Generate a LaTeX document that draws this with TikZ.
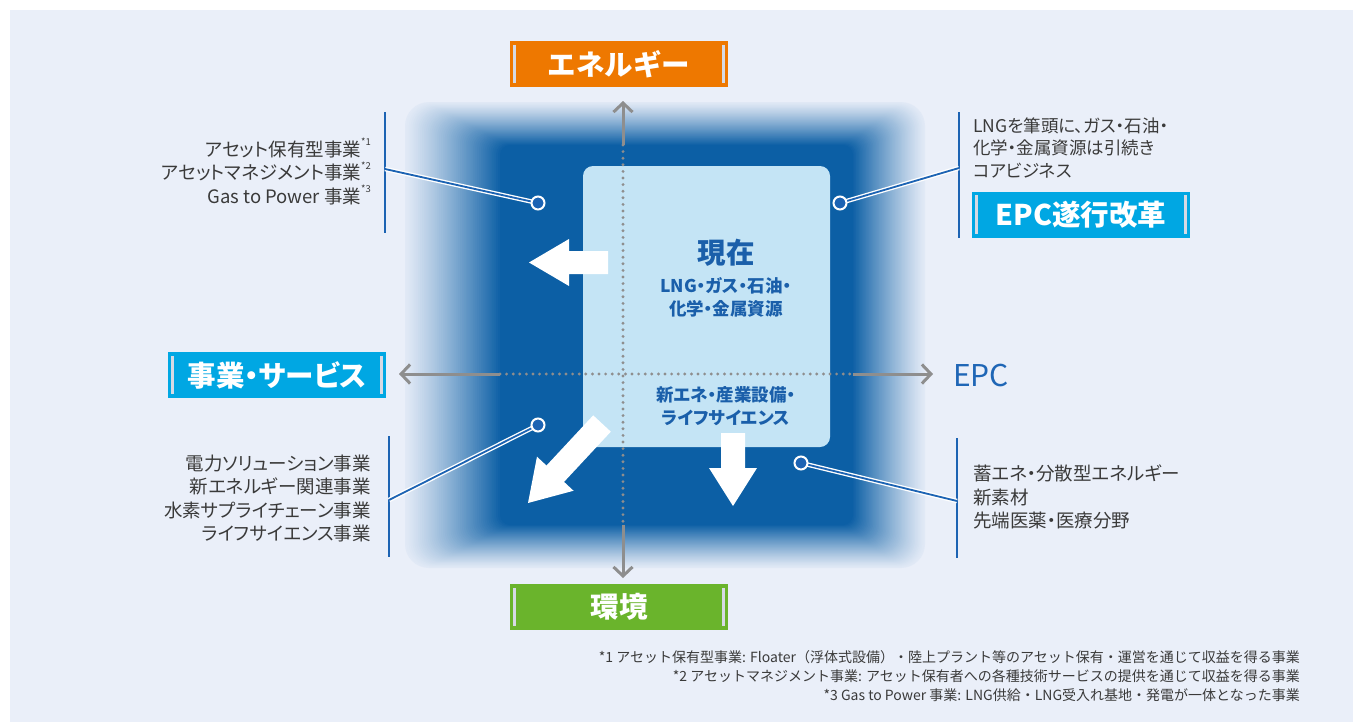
\documentclass[tikz,border=0pt]{standalone}
\usepackage{fontspec}
\setmainfont{Noto Sans CJK JP}
\newfontfamily\jpp{Noto Sans CJK JP}[RawFeature=+palt]
\usetikzlibrary{arrows.meta,calc}
\definecolor{bgc}{HTML}{EAEFF9}
\definecolor{darkb}{HTML}{0C5FA5}
\definecolor{lightb}{HTML}{C4E4F5}
\definecolor{orng}{HTML}{EE7800}
\definecolor{grn}{HTML}{6AB42C}
\definecolor{cyn}{HTML}{00A7E3}
\definecolor{txtg}{HTML}{3A3A3A}
\definecolor{lblue}{HTML}{1C63B3}
\definecolor{ctr}{HTML}{1A5FAA}
\definecolor{epcb}{HTML}{1F66B6}
\definecolor{axg}{HTML}{8E8E8E}
\definecolor{barc}{HTML}{D6DAE4}
\newcommand\sfs[2]{\fontsize{#1}{#2}\selectfont}
\newcommand\supmark[1]{\raisebox{0.55em}{\fontsize{9.5}{9.5}\selectfont #1}}
\newcommand\blkarrow[7]{% x y angle length shaft-half head-half head-length
  \begin{scope}[shift={(#1,#2)},rotate=#3]
    \fill[white] (0,-#5) -- ({#4-#7},-#5) -- ({#4-#7},-#6) -- (#4,0) -- ({#4-#7},#6) -- ({#4-#7},#5) -- (0,#5) -- cycle;
  \end{scope}}
\newcommand\catbars[1]{%
  \draw[barline] ([shift={(5,4)}]#1.north west) -- ([shift={(5,-4)}]#1.south west);
  \draw[barline] ([shift={(-5,4)}]#1.north east) -- ([shift={(-5,-4)}]#1.south east);}
\begin{document}
\begin{tikzpicture}[x=1pt,y=-1pt,
  catbox/.style={rectangle, fill=#1, minimum width=218pt, minimum height=46pt, inner sep=0pt, text=white, font=\bfseries\sfs{28.5}{30}},
  barline/.style={barc, line width=3pt},
  bodytxt/.style={text=txtg, inner sep=0pt, font=\jpp\sfs{18.5}{23.5}},
  foottxt/.style={text=txtg, inner sep=0pt, font=\sfs{14}{19.3}},
  ctrtxt/.style={text=ctr, inner sep=0pt, font=\jpp\bfseries},
  sepline/.style={lblue, line width=1.8pt},
  conw/.style={white, line width=4.5pt},
  conb/.style={lblue, line width=1.8pt},
  dotc/.style={circle, fill=lblue, draw=white, line width=2pt, minimum size=13pt, inner sep=0pt},
  axisline/.style={axg, line width=3pt, -{Straight Barb[length=9pt,width=19pt,line width=3pt]}},
  axisdots/.style={axg, line width=3.2pt, line cap=round, dash pattern=on 0pt off 6.6pt}]
\useasboundingbox (0,0) rectangle (1363,726);
\fill[white] (0,0) rectangle (1363,726);
\fill[bgc] (10,10) rectangle (1353,722);
% soft-edged dark square
\foreach \i in {0,...,50}{
  \pgfmathsetmacro\t{\i/50}
  \pgfmathsetmacro\p{4+96*\t^1.15}
  \pgfmathsetmacro\rr{24-14*\t}
  \fill[darkb!\p!bgc, rounded corners=\rr pt] ({405+95*\t},{102+43*\t}) rectangle ({925-72*\t},{568-43*\t});
}
% light current box
\fill[lightb, rounded corners=10pt] (583,166) rectangle (830,447);
% axes
\coordinate (ytop) at (623,101);
\coordinate (ybot) at (623,578);
\coordinate (xlft) at (399,374);
\coordinate (xrgt) at (933,374);
\coordinate (yt1) at (623,145);
\coordinate (yb1) at (623,525);
\coordinate (xl1) at (500,374);
\coordinate (xr1) at (853,374);
\draw[axisdots] (yt1) -- (yb1);
\draw[axisdots] (xl1) -- (xr1);
\draw[axisline] (yt1) -- (ytop);
\draw[axisline] (yb1) -- (ybot);
\draw[axisline] (xl1) -- (xlft);
\draw[axisline] (xr1) -- (xrgt);
% white block arrows
\blkarrow{608}{262.5}{180}{79}{11.5}{23.5}{40}
\blkarrow{733}{433}{-90}{73}{12}{24}{38}
\blkarrow{602}{423.5}{227.05}{108.6}{12}{25}{40}
% centre texts
\node[ctrtxt, font=\jpp\bfseries\sfs{28.5}{30}] (now) at (726,253) {現在};
\node[ctrtxt, font=\jpp\bfseries\sfs{17.5}{23}, align=center] (nowsub) at (726,297) {LNG・ガス・石油・\\化学・金属資源};
\node[ctrtxt, font=\jpp\bfseries\sfs{17.5}{23}, align=center] (newsub) at (726,406) {新エネ・産業設備・\\ライフサイエンス};
% category boxes
\node[catbox=orng] (ene) at (619,64) {エネルギー};
\catbars{ene}
\node[catbox=grn] (env) at (619,607) {環境};
\catbars{env}
\node[catbox=cyn, font=\jpp\bfseries\sfs{28.5}{30}] (svc) at (277,375) {事業・サービス};
\catbars{svc}
\node[catbox=cyn] (epcr) at (1081,214.5) {EPC遂行改革};
\catbars{epcr}
\node[anchor=west, text=epcb, inner sep=0pt, font=\sfs{30}{30}] (epc) at (953,375) {EPC};
% side texts
\node[bodytxt, anchor=east, align=right] (tl) at (371,171.5) {アセット保有型事業\supmark{*1}\\アセットマネジメント事業\supmark{*2}\\Gas to Power 事業\supmark{*3}};
\node[bodytxt, anchor=east, align=right] (bl) at (371,498.5) {電力ソリューション事業\\新エネルギー関連事業\\水素サプライチェーン事業\\ライフサイエンス事業};
\node[bodytxt, anchor=west, align=left, font=\jpp\sfs{17.5}{22.5}] (tr) at (973,148) {LNGを筆頭に、ガス・石油・\\化学・金属資源は引続き\\コアビジネス};
\node[bodytxt, anchor=west, align=left] (br) at (973,497) {蓄エネ・分散型エネルギー\\新素材\\先端医薬・医療分野};
% separators and connectors
\coordinate (tls1) at (385,112); \coordinate (tls2) at (385,233); \coordinate (tlj) at (385,169);
\coordinate (bls1) at (389,436); \coordinate (bls2) at (389,557); \coordinate (blj) at (389,500);
\coordinate (trs1) at (959,112); \coordinate (trs2) at (959,238); \coordinate (trj) at (959,168);
\coordinate (brs1) at (957,438); \coordinate (brs2) at (957,558); \coordinate (brj) at (957,501);
\draw[sepline] (tls1) -- (tls2);
\draw[sepline] (bls1) -- (bls2);
\draw[sepline] (trs1) -- (trs2);
\draw[sepline] (brs1) -- (brs2);
\coordinate (c1p) at (538,203);
\coordinate (c2p) at (840,203);
\coordinate (c3p) at (538,425);
\coordinate (c4p) at (801,463);
\draw[conw] (tlj) -- (c1p); \draw[conb] (tlj) -- (c1p);
\draw[conw] (trj) -- (c2p); \draw[conb] (trj) -- (c2p);
\draw[conw] (blj) -- (c3p); \draw[conb] (blj) -- (c3p);
\draw[conw] (brj) -- (c4p); \draw[conb] (brj) -- (c4p);
\node[dotc] (c1) at (c1p) {};
\node[dotc] (c2) at (c2p) {};
\node[dotc] (c3) at (c3p) {};
\node[dotc] (c4) at (c4p) {};
% footnotes
\node[foottxt, anchor=east, align=right] (fn) at (1300,676) {*1 アセット保有型事業: Floater（浮体式設備）・陸上プラント等のアセット保有・運営を通じて収益を得る事業\\*2 アセットマネジメント事業: アセット保有者への各種技術サービスの提供を通じて収益を得る事業\\*3 Gas to Power 事業: LNG供給・LNG受入れ基地・発電が一体となった事業};
\end{tikzpicture}
\end{document}
